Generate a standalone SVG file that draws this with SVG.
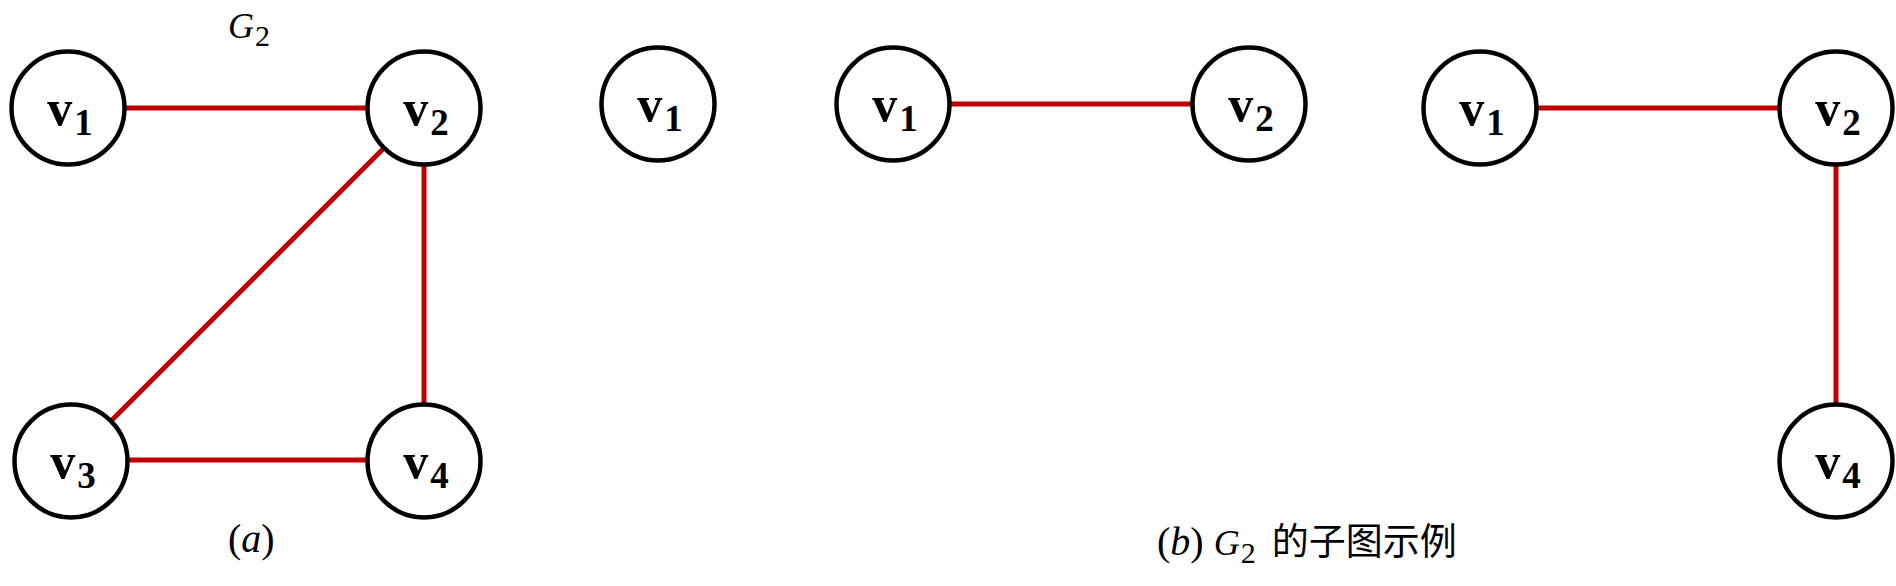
<svg xmlns="http://www.w3.org/2000/svg" width="1896" height="586" viewBox="0 0 1896 586">
<style>
.node{fill:#fff;stroke:#000;stroke-width:4.5}
.edge{stroke:#C00000;stroke-width:5;fill:none}
.lbl{font-family:"Liberation Serif","DejaVu Serif",serif;font-weight:bold;font-size:50px;fill:#000}
.sub{font-size:37px}
.cap{font-family:"Liberation Serif","DejaVu Serif",serif;font-size:40px;fill:#000}
.cjk{font-family:"Noto Sans CJK SC","Noto Sans CJK JP",sans-serif;font-style:normal;font-size:37px}
</style>
<rect width="1896" height="586" fill="#fff"/>
<g id="connectors">
<line class="edge" x1="126" y1="108" x2="366" y2="108"/>
<line class="edge" x1="424" y1="166" x2="424" y2="403"/>
<line class="edge" x1="383" y1="149" x2="112" y2="420"/>
<line class="edge" x1="129" y1="460" x2="366" y2="460"/>
<line class="edge" x1="951" y1="104" x2="1191" y2="104"/>
<line class="edge" x1="1538" y1="108" x2="1778" y2="108"/>
<line class="edge" x1="1836" y1="166" x2="1836" y2="403"/>
</g>
<g id="a-v1"><circle class="node" cx="68" cy="108" r="56.5"/><text class="lbl" x="70" y="125" text-anchor="middle">v<tspan class="sub" dx="2" dy="10">1</tspan></text></g>
<g id="a-v2"><circle class="node" cx="424" cy="108" r="56.5"/><text class="lbl" x="426" y="125" text-anchor="middle">v<tspan class="sub" dx="2" dy="10">2</tspan></text></g>
<g id="a-v3"><circle class="node" cx="71" cy="461" r="56.5"/><text class="lbl" x="73" y="478" text-anchor="middle">v<tspan class="sub" dx="2" dy="10">3</tspan></text></g>
<g id="a-v4"><circle class="node" cx="424" cy="461" r="56.5"/><text class="lbl" x="426" y="478" text-anchor="middle">v<tspan class="sub" dx="2" dy="10">4</tspan></text></g>
<g id="b1-v1"><circle class="node" cx="658" cy="104" r="56.5"/><text class="lbl" x="660" y="121" text-anchor="middle">v<tspan class="sub" dx="2" dy="10">1</tspan></text></g>
<g id="b2-v1"><circle class="node" cx="893" cy="104" r="56.5"/><text class="lbl" x="895" y="121" text-anchor="middle">v<tspan class="sub" dx="2" dy="10">1</tspan></text></g>
<g id="b2-v2"><circle class="node" cx="1249" cy="104" r="56.5"/><text class="lbl" x="1251" y="121" text-anchor="middle">v<tspan class="sub" dx="2" dy="10">2</tspan></text></g>
<g id="b3-v1"><circle class="node" cx="1480" cy="108" r="56.5"/><text class="lbl" x="1482" y="125" text-anchor="middle">v<tspan class="sub" dx="2" dy="10">1</tspan></text></g>
<g id="b3-v2"><circle class="node" cx="1836" cy="108" r="56.5"/><text class="lbl" x="1838" y="125" text-anchor="middle">v<tspan class="sub" dx="2" dy="10">2</tspan></text></g>
<g id="b3-v4"><circle class="node" cx="1836" cy="461" r="56.5"/><text class="lbl" x="1838" y="478" text-anchor="middle">v<tspan class="sub" dx="2" dy="10">4</tspan></text></g>
<g id="title-g2"><text class="cap" x="228" y="38"><tspan font-style="italic" font-size="36">G</tspan><tspan font-size="30" dx="1" dy="8">2</tspan></text></g>
<g id="caption-a"><text class="cap" x="228" y="552">(<tspan font-style="italic">a</tspan>)</text></g>
<g id="caption-b"><text class="cap" x="1157" y="555">(<tspan font-style="italic">b</tspan>) <tspan font-style="italic" font-size="36">G</tspan><tspan font-size="30" dx="1" dy="8">2</tspan><tspan class="cjk" dy="-8" dx="16">的子图示例</tspan></text></g>
</svg>
